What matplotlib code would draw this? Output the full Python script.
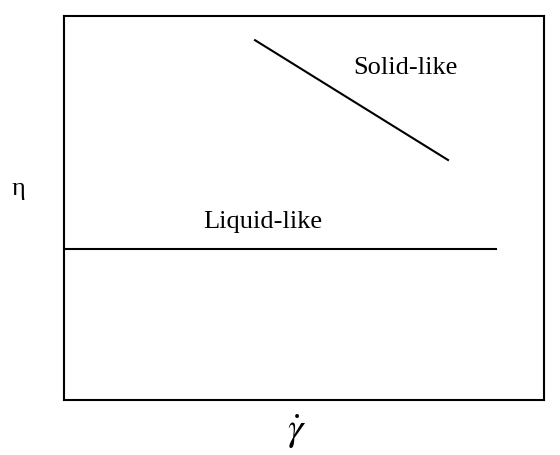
import matplotlib
matplotlib.use('Agg')
import matplotlib.pyplot as plt

plt.rcParams['font.family'] = ['Liberation Serif', 'DejaVu Serif']
plt.rcParams['mathtext.fontset'] = 'stix'

# schematic curves (axes units 0..100)
solid_x = [39.8, 80.0]
solid_y = [93.7, 62.5]
liquid_x = [0.0, 90.0]
liquid_y = [39.3, 39.3]

fig = plt.figure(figsize=(5.6, 4.55), dpi=100)
ax = fig.add_axes([64 / 560, 55 / 455, 480 / 560, 384 / 455])
ax.set_xlim(0, 100)
ax.set_ylim(0, 100)
ax.set_xticks([])
ax.set_yticks([])
for s in ax.spines.values():
    s.set_linewidth(1.5)

ax.plot(solid_x, solid_y, color='black', lw=1.5)
ax.plot(liquid_x, liquid_y, color='black', lw=1.5)

ax.text(71.2, 86.5, 'Solid-like', fontsize=19, ha='center', va='center')
ax.text(41.5, 46.4, 'Liquid-like', fontsize=19, ha='center', va='center')

fig.text(18 / 560, 1 - 189 / 455, '\u03b7', fontsize=19, ha='center', va='center')
fig.text(297 / 560, 1 - 432 / 455, r'$\dot{\gamma}$', fontsize=28, ha='center', va='center')

fig.savefig('out.png', dpi=100)
